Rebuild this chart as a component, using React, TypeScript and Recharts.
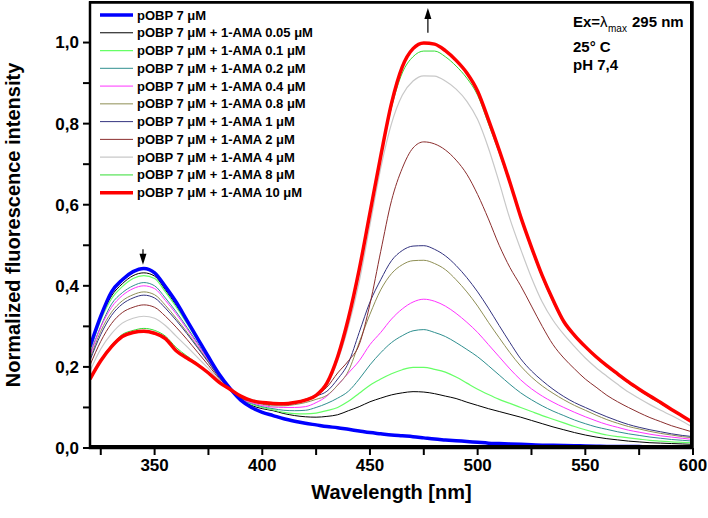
import React from 'react';
import { LineChart, Line, XAxis, YAxis, ReferenceLine, Legend, Label } from 'recharts';

const WAVELENGTH = [320, 325, 330, 335, 340, 345, 350, 355, 360, 365, 370, 375, 380, 385, 390,
  395, 400, 405, 410, 415, 420, 425, 430, 435, 440, 445, 450, 455, 460, 465, 470, 475, 480, 485, 490, 495, 500,
  505, 510, 515, 520, 525, 530, 535, 540, 545, 550, 555, 560, 565, 570, 575, 580, 585, 590, 595, 600];

const POBP = [0.25, 0.325, 0.385, 0.415, 0.435, 0.443, 0.432, 0.398, 0.36, 0.315, 0.27, 0.225, 0.182, 0.147, 0.118,
  0.10, 0.088, 0.08, 0.072, 0.066, 0.061, 0.057, 0.053, 0.05, 0.046, 0.042, 0.038, 0.035, 0.032, 0.03, 0.028, 0.025, 0.022, 0.02, 0.018, 0.016, 0.014,
  0.012, 0.011, 0.01, 0.009, 0.008, 0.007, 0.0065, 0.006, 0.0055, 0.005, 0.0045, 0.004, 0.004, 0.004, 0.0035, 0.003, 0.003, 0.003, 0.003, 0.003];
const AMA_005 = [0.244, 0.32, 0.375, 0.405, 0.425, 0.432, 0.424, 0.39, 0.352, 0.31, 0.267, 0.223, 0.18, 0.146, 0.12,
  0.105, 0.097, 0.092, 0.085, 0.08, 0.077, 0.076, 0.078, 0.082, 0.092, 0.102, 0.114, 0.123, 0.131, 0.136, 0.139, 0.138, 0.134, 0.128, 0.122, 0.113, 0.105,
  0.097, 0.09, 0.083, 0.076, 0.068, 0.06, 0.052, 0.045, 0.038, 0.032, 0.027, 0.023, 0.02, 0.017, 0.015, 0.013, 0.012, 0.011, 0.01, 0.009];
const AMA_01 = [0.24, 0.315, 0.368, 0.398, 0.418, 0.425, 0.418, 0.385, 0.348, 0.307, 0.265, 0.222, 0.18, 0.146, 0.12,
  0.108, 0.1, 0.094, 0.088, 0.085, 0.084, 0.086, 0.092, 0.1, 0.115, 0.135, 0.155, 0.17, 0.183, 0.193, 0.199, 0.199, 0.194, 0.187, 0.175, 0.16, 0.145,
  0.132, 0.12, 0.11, 0.1, 0.09, 0.08, 0.071, 0.062, 0.053, 0.045, 0.038, 0.032, 0.028, 0.025, 0.022, 0.019, 0.017, 0.015, 0.014, 0.013];
const AMA_02 = [0.232, 0.30, 0.355, 0.383, 0.40, 0.408, 0.40, 0.37, 0.336, 0.298, 0.258, 0.218, 0.178, 0.146, 0.121,
  0.11, 0.102, 0.097, 0.093, 0.092, 0.093, 0.1, 0.11, 0.123, 0.14, 0.17, 0.205, 0.235, 0.26, 0.277, 0.289, 0.292, 0.285, 0.275, 0.26, 0.243, 0.225,
  0.203, 0.18, 0.157, 0.136, 0.119, 0.104, 0.091, 0.08, 0.069, 0.06, 0.052, 0.046, 0.04, 0.035, 0.031, 0.027, 0.024, 0.021, 0.019, 0.017];
const AMA_04 = [0.228, 0.298, 0.347, 0.376, 0.393, 0.40, 0.393, 0.364, 0.331, 0.294, 0.255, 0.216, 0.177, 0.146, 0.121,
  0.112, 0.105, 0.101, 0.1, 0.1, 0.102, 0.112, 0.128, 0.155, 0.185, 0.215, 0.255, 0.285, 0.318, 0.343, 0.36, 0.367, 0.362, 0.35, 0.332, 0.31, 0.285,
  0.255, 0.225, 0.195, 0.168, 0.146, 0.128, 0.113, 0.1, 0.088, 0.077, 0.067, 0.058, 0.051, 0.044, 0.039, 0.034, 0.03, 0.027, 0.024, 0.021];
const AMA_08 = [0.22, 0.288, 0.335, 0.363, 0.378, 0.385, 0.378, 0.352, 0.32, 0.286, 0.25, 0.213, 0.175, 0.146, 0.122,
  0.115, 0.108, 0.104, 0.104, 0.107, 0.112, 0.12, 0.13, 0.155, 0.19, 0.26, 0.33, 0.39, 0.43, 0.452, 0.462, 0.463, 0.455, 0.44, 0.415, 0.385, 0.35,
  0.31, 0.272, 0.235, 0.202, 0.175, 0.153, 0.135, 0.119, 0.105, 0.093, 0.081, 0.07, 0.061, 0.053, 0.047, 0.041, 0.036, 0.032, 0.028, 0.025];
const AMA_1 = [0.216, 0.28, 0.327, 0.355, 0.37, 0.377, 0.37, 0.345, 0.315, 0.282, 0.247, 0.211, 0.174, 0.146, 0.123,
  0.116, 0.11, 0.107, 0.107, 0.11, 0.117, 0.128, 0.14, 0.17, 0.21, 0.285, 0.36, 0.415, 0.462, 0.487, 0.498, 0.499, 0.49, 0.474, 0.45, 0.42, 0.385,
  0.345, 0.302, 0.26, 0.22, 0.19, 0.166, 0.145, 0.127, 0.112, 0.1, 0.088, 0.077, 0.067, 0.058, 0.051, 0.045, 0.04, 0.035, 0.031, 0.028];
const AMA_2 = [0.204, 0.263, 0.307, 0.334, 0.347, 0.353, 0.347, 0.325, 0.298, 0.268, 0.236, 0.204, 0.171, 0.146, 0.124,
  0.118, 0.112, 0.11, 0.11, 0.113, 0.12, 0.13, 0.15, 0.185, 0.215, 0.255, 0.355, 0.485, 0.61, 0.69, 0.74, 0.755, 0.75, 0.735, 0.71, 0.675, 0.625,
  0.565, 0.50, 0.445, 0.40, 0.35, 0.30, 0.255, 0.222, 0.195, 0.17, 0.15, 0.13, 0.114, 0.1, 0.087, 0.075, 0.065, 0.055, 0.047, 0.039];
const AMA_4 = [0.19, 0.244, 0.282, 0.308, 0.32, 0.325, 0.32, 0.302, 0.276, 0.25, 0.223, 0.196, 0.167, 0.145, 0.126,
  0.12, 0.113, 0.11, 0.11, 0.113, 0.12, 0.132, 0.155, 0.215, 0.30, 0.41, 0.55, 0.69, 0.80, 0.87, 0.905, 0.918, 0.917, 0.905, 0.885, 0.855, 0.81,
  0.74, 0.655, 0.565, 0.49, 0.42, 0.36, 0.315, 0.28, 0.25, 0.222, 0.198, 0.177, 0.157, 0.138, 0.122, 0.107, 0.093, 0.08, 0.066, 0.051];
const AMA_8 = [0.172, 0.218, 0.254, 0.28, 0.29, 0.295, 0.29, 0.276, 0.248, 0.227, 0.208, 0.187, 0.163, 0.145, 0.128,
  0.118, 0.112, 0.11, 0.109, 0.112, 0.118, 0.13, 0.158, 0.222, 0.318, 0.435, 0.575, 0.715, 0.84, 0.925, 0.965, 0.979, 0.979, 0.965, 0.942, 0.912, 0.87,
  0.80, 0.728, 0.65, 0.566, 0.49, 0.42, 0.36, 0.308, 0.274, 0.247, 0.222, 0.2, 0.18, 0.16, 0.142, 0.125, 0.109, 0.093, 0.077, 0.062];
const AMA_10 = [0.17, 0.215, 0.25, 0.275, 0.285, 0.288, 0.283, 0.27, 0.24, 0.222, 0.205, 0.185, 0.162, 0.145, 0.128,
  0.117, 0.112, 0.11, 0.109, 0.112, 0.118, 0.13, 0.16, 0.225, 0.32, 0.44, 0.58, 0.72, 0.85, 0.94, 0.985, 0.999, 0.996, 0.98, 0.956, 0.925, 0.88,
  0.81, 0.735, 0.655, 0.57, 0.495, 0.425, 0.365, 0.312, 0.278, 0.25, 0.225, 0.203, 0.183, 0.163, 0.145, 0.128, 0.112, 0.095, 0.079, 0.063];

const X_TICKS = [325, 350, 375, 400, 425, 450, 475, 500, 525, 550, 575, 600];
const Y_TICKS = [0, 0.1, 0.2, 0.3, 0.4, 0.5, 0.6, 0.7, 0.8, 0.9, 1.0];
const X_MIN = 320;
const X_MAX = 600;
const Y_MAX = 1.1;
const X_TITLE = 'Wavelength [nm]';
const Y_TITLE = 'Normalized fluorescence intensity';
const CONDITIONS = ['25° C', 'pH 7,4'];

const SERIES = [
  { key: 's0', name: 'pOBP 7 μM', color: '#0000FF', width: 3.5, values: POBP },
  { key: 's1', name: 'pOBP 7 μM + 1-AMA 0.05 μM', color: '#000000', width: 1, values: AMA_005 },
  { key: 's2', name: 'pOBP 7 μM + 1-AMA 0.1 μM', color: '#66FF66', width: 1.2, values: AMA_01 },
  { key: 's3', name: 'pOBP 7 μM + 1-AMA 0.2 μM', color: '#2F8F8F', width: 1, values: AMA_02 },
  { key: 's4', name: 'pOBP 7 μM + 1-AMA 0.4 μM', color: '#FF33FF', width: 1, values: AMA_04 },
  { key: 's5', name: 'pOBP 7 μM + 1-AMA 0.8 μM', color: '#8F8F55', width: 1, values: AMA_08 },
  { key: 's6', name: 'pOBP 7 μM + 1-AMA 1 μM', color: '#33337F', width: 1, values: AMA_1 },
  { key: 's7', name: 'pOBP 7 μM + 1-AMA 2 μM', color: '#8B2E2E', width: 1, values: AMA_2 },
  { key: 's8', name: 'pOBP 7 μM + 1-AMA 4 μM', color: '#C8C8C8', width: 1.2, values: AMA_4 },
  { key: 's9', name: 'pOBP 7 μM + 1-AMA 8 μM', color: '#33DD33', width: 1, values: AMA_8 },
  { key: 's10', name: 'pOBP 7 μM + 1-AMA 10 μM', color: '#FF0000', width: 3.5, values: AMA_10 },
];

const DRAW_ORDER = ['s1', 's2', 's3', 's4', 's5', 's6', 's7', 's8', 's9', 's0', 's10'];

const data = WAVELENGTH.map((w, i) => {
  const row: Record<string, number> = { w };
  SERIES.forEach((s) => { row[s.key] = s.values[i]; });
  return row;
});

// layout constants
const CHART_W = 708;
const CHART_H = 518;
const MARGIN = { top: 2, right: 15, left: 0, bottom: 0 };
const Y_AXIS_W = 90;
const X_AXIS_H = 70;
const PLOT = {
  left: MARGIN.left + Y_AXIS_W,
  top: MARGIN.top,
  right: CHART_W - MARGIN.right,
  bottom: CHART_H - MARGIN.bottom - X_AXIS_H,
};

const FONT = 'Arial, "Liberation Sans", Helvetica, sans-serif';

const XTick = (props: any) => {
  const { x, y, payload } = props;
  if (payload.value % 50 !== 0) return <g />;
  return (
    <text x={x} y={y} dy="0.71em" textAnchor="middle" fontSize={17} fontWeight="bold" fontFamily={FONT} fill="#000">
      {payload.value}
    </text>
  );
};

const YTick = (props: any) => {
  const { x, y, payload } = props;
  const v = payload.value;
  if (Math.round(v * 10) % 2 !== 0) return <g />;
  return (
    <text x={x} y={y} dy="0.35em" textAnchor="end" fontSize={17} fontWeight="bold" fontFamily={FONT} fill="#000">
      {v.toFixed(1).replace('.', ',')}
    </text>
  );
};

const Arrow = (props: any) => {
  const { x1, y1, x2, y2 } = props;
  const dir = y2 > y1 ? 1 : -1;
  return (
    <g>
      <line x1={x1} y1={y1} x2={x2} y2={y2 - dir * 6} stroke="#000" strokeWidth={1.2} />
      <polygon points={`${x2},${y2} ${x2 - 3.5},${y2 - dir * 11} ${x2 + 3.5},${y2 - dir * 11}`} fill="#000" />
    </g>
  );
};

const Overlay = () => (
  <svg width={CHART_W} height={CHART_H} style={{ display: 'block', overflow: 'visible' }}>
    <rect
      x={PLOT.left}
      y={PLOT.top + 0.5}
      width={PLOT.right - PLOT.left - 0.5}
      height={PLOT.bottom - PLOT.top - 0.5}
      fill="none"
      stroke="#000"
      strokeWidth={2.5}
    />
    {SERIES.map((s, i) => {
      const cy = 15 + i * 17.77;
      return (
        <g key={s.key}>
          <line x1={100} x2={133} y1={cy} y2={cy} stroke={s.color} strokeWidth={s.width} />
          <text x={137} y={cy} dominantBaseline="central" fontSize={13} fontWeight="bold" fontFamily={FONT} fill="#000">
            {s.name}
          </text>
        </g>
      );
    })}
    <text x={573} y={27} fontSize={15} fontWeight="bold" fontFamily={FONT} fill="#000">Ex=</text>
    <text x={600} y={27} fontSize={15} fontFamily={FONT} fill="#000">λ</text>
    <text x={608} y={32} fontSize={10} fontFamily={FONT} fill="#000">max</text>
    <text x={632} y={27} fontSize={15} fontWeight="bold" fontFamily={FONT} fill="#000">295 nm</text>
    <text x={573} y={51.5} fontSize={15} fontWeight="bold" fontFamily={FONT} fill="#000">{CONDITIONS[0]}</text>
    <text x={573} y={69.5} fontSize={15} fontWeight="bold" fontFamily={FONT} fill="#000">{CONDITIONS[1]}</text>
  </svg>
);

const XTitle = (props: any) => {
  const vb = props.viewBox;
  return (
    <text x={vb.x + vb.width / 2} y={492} textAnchor="middle" dominantBaseline="central" fontSize={20} fontWeight="bold" fontFamily={FONT} fill="#000">
      {X_TITLE}
    </text>
  );
};

const YTitle = (props: any) => {
  const vb = props.viewBox;
  const cy = vb.y + vb.height / 2;
  return (
    <text x={0} y={0} transform={`translate(13, ${cy}) rotate(-90)`} textAnchor="middle" dominantBaseline="central" fontSize={20} fontWeight="bold" fontFamily={FONT} fill="#000">
      {Y_TITLE}
    </text>
  );
};

export default function App() {
  const byKey: Record<string, any> = {};
  SERIES.forEach((s) => { byKey[s.key] = s; });
  return (
    <div style={{ position: 'absolute', left: 0, top: 0, width: CHART_W, height: CHART_H, background: '#fff' }}>
      <LineChart width={CHART_W} height={CHART_H} data={data} margin={MARGIN}>
        <XAxis
          dataKey="w"
          type="number"
          domain={[X_MIN, X_MAX]}
          ticks={X_TICKS}
          allowDataOverflow
          height={X_AXIS_H}
          tickSize={7}
          tickMargin={4}
          tick={<XTick />}
          axisLine={{ stroke: '#000', strokeWidth: 2 }}
          tickLine={{ stroke: '#000', strokeWidth: 2 }}
          interval={0}
        >
          <Label content={<XTitle />} />
        </XAxis>
        <YAxis
          type="number"
          domain={[0, Y_MAX]}
          ticks={Y_TICKS}
          allowDataOverflow
          width={Y_AXIS_W}
          tickSize={7}
          tickMargin={4}
          tick={<YTick />}
          axisLine={{ stroke: '#000', strokeWidth: 2 }}
          tickLine={{ stroke: '#000', strokeWidth: 2 }}
          interval={0}
        >
          <Label content={<YTitle />} />
        </YAxis>
        {DRAW_ORDER.map((k) => {
          const s = byKey[k];
          return (
            <Line
              key={s.key}
              dataKey={s.key}
              name={s.name}
              type="monotone"
              stroke={s.color}
              strokeWidth={s.width}
              dot={false}
              activeDot={false}
              isAnimationActive={false}
            />
          );
        })}
        <ReferenceLine segment={[{ x: 344.6, y: 0.49 }, { x: 344.6, y: 0.452 }]} ifOverflow="visible" shape={Arrow} />
        <ReferenceLine segment={[{ x: 476.9, y: 1.024 }, { x: 476.9, y: 1.085 }]} ifOverflow="visible" shape={Arrow} />
        <Legend
          layout="vertical"
          align="center"
          verticalAlign="middle"
          wrapperStyle={{ position: 'absolute', left: 0, top: 0, width: CHART_W, height: CHART_H, pointerEvents: 'none' }}
          content={() => <Overlay />}
        />
      </LineChart>
      <div
        style={{
          position: 'absolute',
          left: PLOT.left - 1,
          top: PLOT.top - 1,
          width: PLOT.right - PLOT.left,
          height: PLOT.bottom - PLOT.top,
          border: '2px solid #000',
          boxSizing: 'border-box',
          pointerEvents: 'none',
        }}
      />
    </div>
  );
}
